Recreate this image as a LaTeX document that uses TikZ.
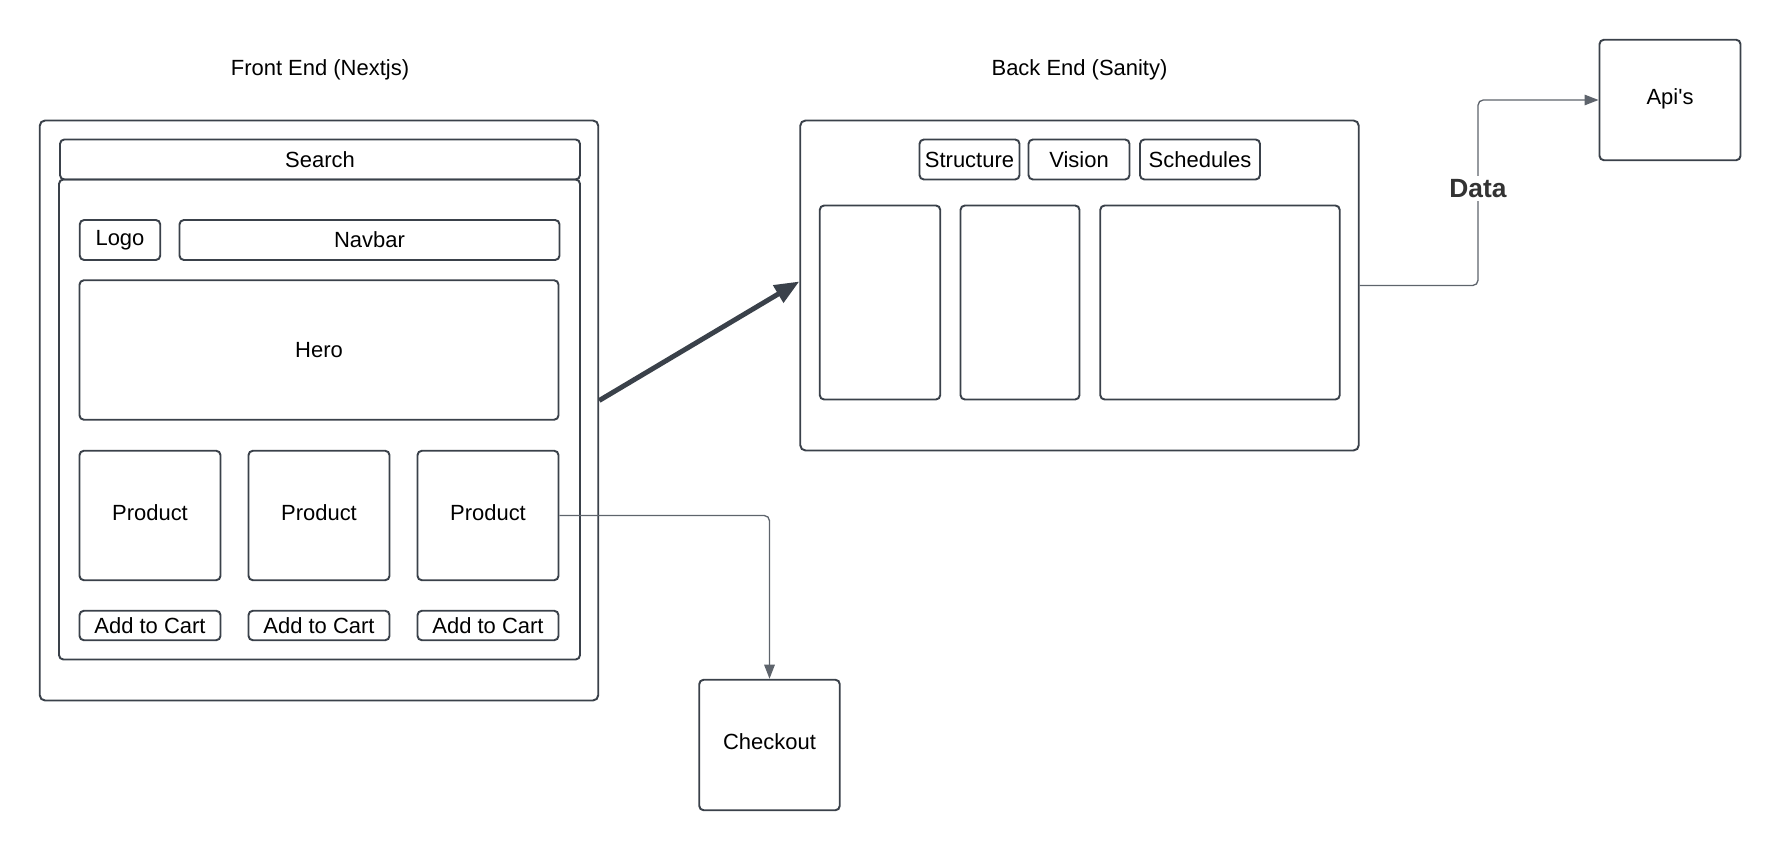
\documentclass[tikz,border=0pt]{standalone}
\usepackage{fontspec}
\setmainfont{Liberation Sans}
\usetikzlibrary{arrows.meta,calc}
\definecolor{ink}{HTML}{000000}
\definecolor{edge}{HTML}{3A414A}
\definecolor{wire}{HTML}{5E646C}
\definecolor{label}{HTML}{333333}
\tikzset{
  every node/.style={font=\fontsize{12.5}{15}\selectfont, text=ink},
  box/.style={draw=edge, rounded corners=2.5pt, line width=1.1pt, inner sep=0pt, align=center},
  tile/.style={box, text depth=0.36em}, % text sits a bit above centre
  frame/.style={box, rounded corners=3pt},
  btn/.style={box, minimum height=0.8cm},
  panel/.style={box, minimum height=3.88cm},
  wirearr/.style={-{Triangle[length=8pt,width=6pt]}, draw=wire, line width=0.75pt, rounded corners=3pt},
  bigarr/.style={-{Triangle[length=14pt,width=11pt]}, draw=edge, line width=2.8pt},
  title/.style={font=\fontsize{12.5}{15}\selectfont},
}
\begin{document}
\begin{tikzpicture}
  \useasboundingbox (0,0) rectangle (35.6,17);

  % front end
  \node[title] (fetitle) at (6.40,15.61) {Front End (Nextjs)};
  \node[frame, minimum width=11.17cm, minimum height=11.60cm] (front) at (6.38,8.79) {};
  \node[btn, minimum width=10.40cm] (search) at (6.40,13.81) {Search};
  \node[box, minimum width=10.42cm, minimum height=9.60cm] (page) at (6.39,8.61) {};
  \node[btn, minimum width=1.61cm] (logo) at (2.40,12.20) {Logo};
  \node[btn, minimum width=7.60cm] (navbar) at (7.39,12.20) {Navbar};
  \node[box, minimum width=9.58cm, minimum height=2.79cm] (hero) at (6.38,10.00) {Hero};
  \foreach \i/\x in {1/3.00,2/6.38,3/9.76} {
    \node[tile, minimum width=2.82cm, minimum height=2.59cm] (prod\i) at (\x,6.69) {Product};
    \node[box, minimum width=2.82cm, minimum height=0.59cm] (cart\i) at (\x,4.49) {Add to Cart};
  }
  \node[tile, minimum width=2.81cm, minimum height=2.61cm] (checkout) at (15.39,2.10) {Checkout};

  % back end
  \node[title] (betitle) at (21.59,15.61) {Back End (Sanity)};
  \node[frame, minimum width=11.17cm, minimum height=6.60cm] (back) at (21.59,11.29) {};
  \node[btn, minimum width=2.00cm] (structure) at (19.39,13.81) {Structure};
  \node[btn, minimum width=2.02cm] (vision) at (21.58,13.81) {Vision};
  \node[btn, minimum width=2.40cm] (schedules) at (24.00,13.81) {Schedules};
  \node[panel, minimum width=2.41cm] (panelA) at (17.60,10.95) {};
  \node[panel, minimum width=2.38cm] (panelB) at (20.40,10.95) {};
  \node[panel, minimum width=4.79cm] (panelC) at (24.40,10.95) {};

  \node[tile, minimum width=2.82cm, minimum height=2.41cm] (api) at (33.40,15.00) {Api\textquotesingle s};

  % connectors
  \draw[bigarr] ([yshift=0.2cm]front.east) -- ([yshift=0.08cm]back.west);
  \draw[wirearr] (prod3.east) -| (checkout.north);
  \coordinate (dataturn) at (29.56,13.23);
  \draw[wirearr] (back.east) -| (dataturn) |- (api.west);
  \node[font=\fontsize{15}{18}\selectfont\bfseries, text=label, fill=white, inner sep=2pt] (data) at (dataturn) {Data};
\end{tikzpicture}
\end{document}
